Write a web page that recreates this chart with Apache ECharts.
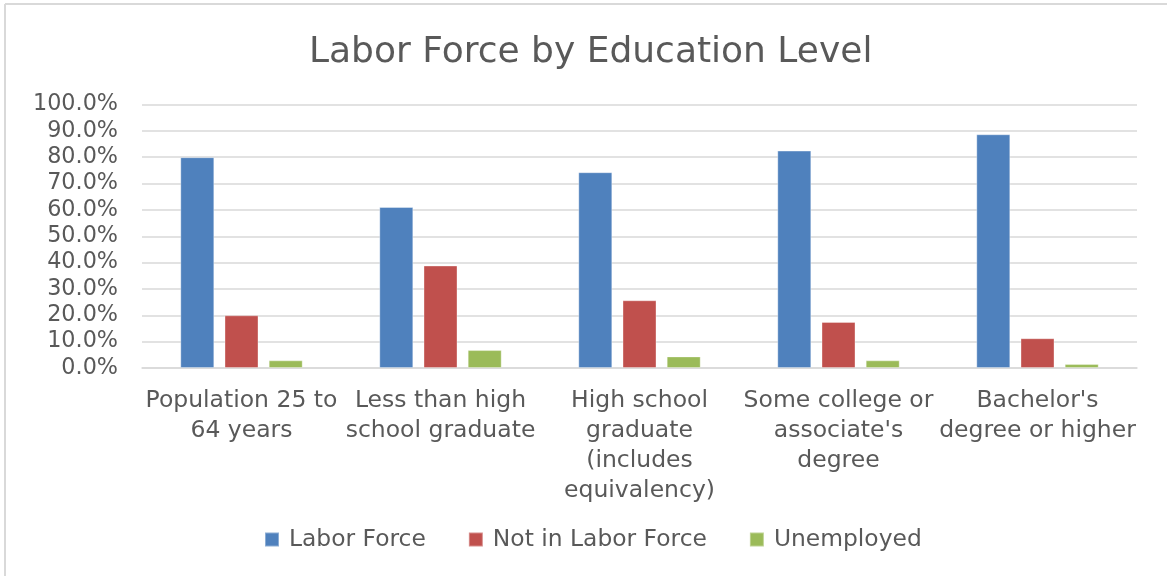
<!DOCTYPE html>
<html>
<head>
<meta charset="utf-8">
<title>Labor Force by Education Level</title>
<script src="https://cdn.jsdelivr.net/npm/echarts@6/dist/echarts.min.js"></script>
<style>
  html, body { margin: 0; padding: 0; background: #ffffff; }
  #chart { width: 1167px; height: 576px; }
</style>
</head>
<body>
<div id="chart"></div>
<script>
// Education levels (line breaks as shown under the axis)
const categories = [
  'Population 25 to\n64 years',
  'Less than high\nschool graduate',
  'High school\ngraduate\n(includes\nequivalency)',
  'Some college or\nassociate\'s\ndegree',
  'Bachelor\'s\ndegree or higher'
];

// Shares of the population, in percent
const laborForce    = [80.0, 61.1, 74.3, 82.5, 88.7];
const notInLabor    = [20.0, 38.9, 25.7, 17.5, 11.3];
const unemployed    = [2.9, 6.8, 4.4, 2.9, 1.5];

const seriesNames = ['Labor Force', 'Not in Labor Force', 'Unemployed'];
const seriesColors = ['#4f81bd', '#c0504d', '#9bbb59'];

const textColor = '#595959';
const gridColor = '#d9d9d9';
const font = 'DejaVu Sans';

const chart = echarts.init(document.getElementById('chart'), null, { renderer: 'canvas' });

const seriesData = [laborForce, notInLabor, unemployed];

chart.setOption({
  animation: false,
  backgroundColor: '#ffffff',
  title: {
    text: 'Labor Force by Education Level',
    left: 304,
    top: 30,
    textStyle: { color: textColor, fontFamily: font, fontSize: 36, fontWeight: 'normal' }
  },
  legend: {
    data: seriesNames,
    bottom: 20,
    left: 259,
    icon: 'rect',
    itemWidth: 14,
    itemHeight: 14,
    itemGap: 42,
    textStyle: { color: textColor, fontFamily: font, fontSize: 23.4, padding: [0, 0, 0, 5] }
  },
  grid: { left: 142, right: 30, top: 104.5, bottom: 208, containLabel: false },
  xAxis: {
    type: 'category',
    data: categories,
    axisLine: { lineStyle: { color: gridColor, width: 1.5 } },
    axisTick: { show: false },
    axisLabel: {
      color: textColor, fontFamily: font, fontSize: 23.5, lineHeight: 30,
      margin: 18, interval: 0, align: 'center'
    }
  },
  yAxis: {
    type: 'value',
    min: 0,
    max: 100,
    interval: 10,
    axisLine: { show: false },
    axisTick: { show: false },
    splitLine: { lineStyle: { color: gridColor, width: 1.5 } },
    axisLabel: {
      color: textColor, fontFamily: font, fontSize: 22.3, margin: 24,
      formatter: v => v.toFixed(1) + '%'
    }
  },
  graphic: [
    { type: 'line', shape: { x1: 5, y1: 4, x2: 1167, y2: 4 }, style: { stroke: gridColor, lineWidth: 2 } },
    { type: 'line', shape: { x1: 5, y1: 4, x2: 5, y2: 576 }, style: { stroke: gridColor, lineWidth: 2 } }
  ],
  series: seriesNames.map((name, i) => ({
    name: name,
    type: 'bar',
    data: seriesData[i],
    barWidth: 34,
    barGap: '30%',
    itemStyle: {
      color: seriesColors[i],
      borderColor: 'rgba(255,255,255,0.35)',
      borderWidth: 1
    }
  }))
});
</script>
</body>
</html>
